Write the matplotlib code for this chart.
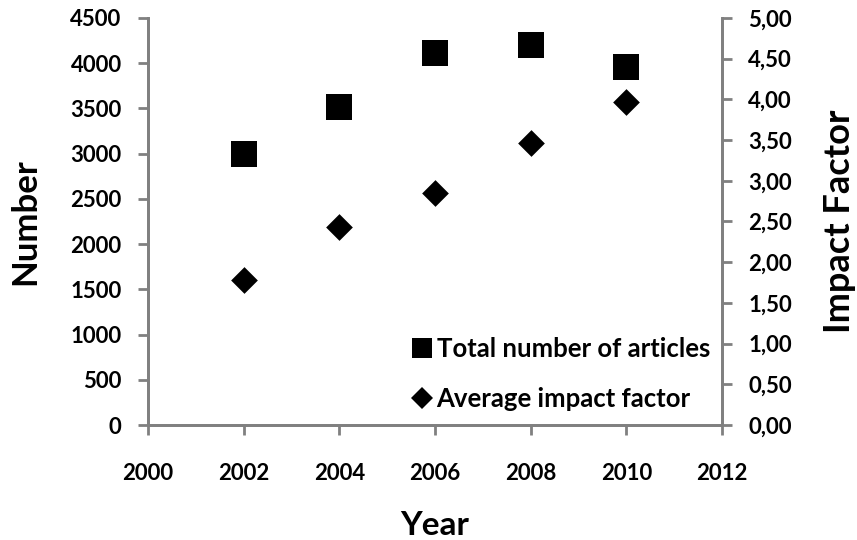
import matplotlib
matplotlib.use("Agg")
import matplotlib.pyplot as plt
from matplotlib.lines import Line2D

years = [2002, 2004, 2006, 2008, 2010]
articles = [3000, 3515, 4110, 4200, 3955]
impact = [1.78, 2.43, 2.85, 3.46, 3.97]
xticks = [2000, 2002, 2004, 2006, 2008, 2010, 2012]
yticks_left = [0, 500, 1000, 1500, 2000, 2500, 3000, 3500, 4000, 4500]
yticks_right = [0, 0.5, 1, 1.5, 2, 2.5, 3, 3.5, 4, 4.5, 5]
labels = ['Total number of articles', 'Average impact factor']

plt.rcParams['font.family'] = ['Lato', 'DejaVu Sans']
fig = plt.figure(figsize=(8.57, 5.4), dpi=100)
ax = fig.add_axes([148/857, 115/540, (722-148)/857, (425-18)/540])
ax2 = ax.twinx()

gray = '#808080'
ax.scatter(years, articles, marker='s', s=345, color='black', linewidths=0, zorder=3)
ax2.scatter(years, impact, marker='D', s=185, color='black', linewidths=0, zorder=3)

ax.set_xlim(2000, 2012)
ax.set_ylim(0, 4500)
ax2.set_ylim(0, 5)
ax.set_xticks(xticks)
ax.set_yticks(yticks_left)
ax2.set_yticks(yticks_right)
ax2.set_yticklabels([f"{v:.2f}".replace('.', ',') for v in yticks_right])

for a in (ax, ax2):
    a.spines['top'].set_visible(False)
    for s in ('left', 'right', 'bottom'):
        a.spines[s].set_color(gray)
        a.spines[s].set_linewidth(2)
    a.tick_params(length=7, width=2, color=gray, labelsize=16)
    for lab in a.get_xticklabels() + a.get_yticklabels():
        lab.set_fontweight('bold')
ax.tick_params(axis='x', pad=20)
ax.tick_params(axis='y', pad=12)
ax2.tick_params(axis='y', pad=12)
ax.set_xlabel('Year', fontsize=24, fontweight='bold', labelpad=20)
ax.set_ylabel('Number', fontsize=25, fontweight='bold', labelpad=21)
ax2.set_ylabel('Impact Factor', fontsize=26, fontweight='bold', labelpad=22)

handles = [Line2D([], [], marker='s', ms=15, color='black', ls='none', mew=0),
           Line2D([], [], marker='D', ms=11, color='black', ls='none', mew=0)]
leg = ax.legend(handles, labels, loc='lower right', frameon=False, fontsize=18.5,
                handletextpad=0.15, labelspacing=1.0, borderaxespad=0, borderpad=0,
                handlelength=0.8, bbox_to_anchor=(0.979, 0.035))
for t in leg.get_texts():
    t.set_fontweight('bold')

fig.savefig('out.png', dpi=100)
